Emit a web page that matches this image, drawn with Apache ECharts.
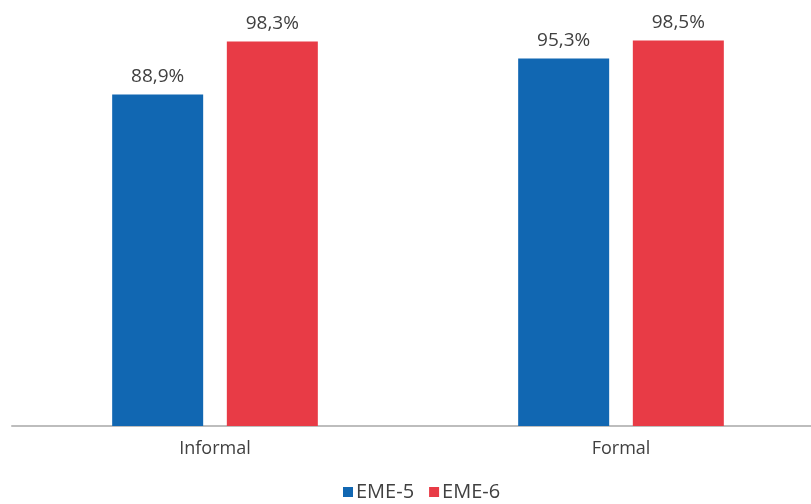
<!DOCTYPE html>
<html>
<head>
<meta charset="utf-8">
<script src="https://cdn.jsdelivr.net/npm/echarts@6/dist/echarts.min.js"></script>
<style>
  html, body { margin: 0; padding: 0; background: #fff; }
  #chart { width: 811px; height: 504px; }
</style>
</head>
<body>
<div id="chart"></div>
<script>
// Share of respondents by sector type, two survey waves
const categories = ['Informal', 'Formal'];
const seriesNames = ['EME-5', 'EME-6'];
const eme5 = [88.9, 95.3];
const eme6 = [98.3, 98.5];
const colors = ['#1167b2', '#e83b46'];

const fontFamily = '"Open Sans", "Noto Sans", sans-serif';
const fmt = p => p.value.toFixed(1).replace('.', ',') + '%';

const chart = echarts.init(document.getElementById('chart'), null, { renderer: 'canvas' });
chart.setOption({
  animation: false,
  grid: { left: 12, top: 32, width: 812, height: 394, containLabel: false, outerBoundsMode: 'none' },
  legend: {
    data: seriesNames,
    bottom: -3,
    left: 338,
    icon: 'rect',
    itemWidth: 10,
    itemHeight: 10,
    itemGap: 15,
    textStyle: { fontFamily, fontSize: 20, color: '#404040', padding: [0, 0, 0, -2] }
  },
  xAxis: {
    type: 'category',
    data: categories,
    axisLine: { show: true, lineStyle: { color: '#bdbdbd', width: 2 } },
    axisTick: { show: false },
    axisLabel: { fontFamily, fontSize: 18, color: '#404040', margin: 14 }
  },
  yAxis: {
    type: 'value',
    min: 30,
    max: 100,
    show: false,
    splitLine: { show: false }
  },
  series: [
    {
      name: seriesNames[0],
      type: 'bar',
      data: eme5,
      barWidth: 91,
      barGap: '26%',
      itemStyle: { color: colors[0] },
      label: { show: true, position: 'top', distance: 8, formatter: fmt, fontFamily, fontSize: 19, color: '#404040' }
    },
    {
      name: seriesNames[1],
      type: 'bar',
      data: eme6,
      barWidth: 91,
      barGap: '26%',
      itemStyle: { color: colors[1] },
      label: { show: true, position: 'top', distance: 8, formatter: fmt, fontFamily, fontSize: 19, color: '#404040' }
    }
  ]
});
</script>
</body>
</html>
